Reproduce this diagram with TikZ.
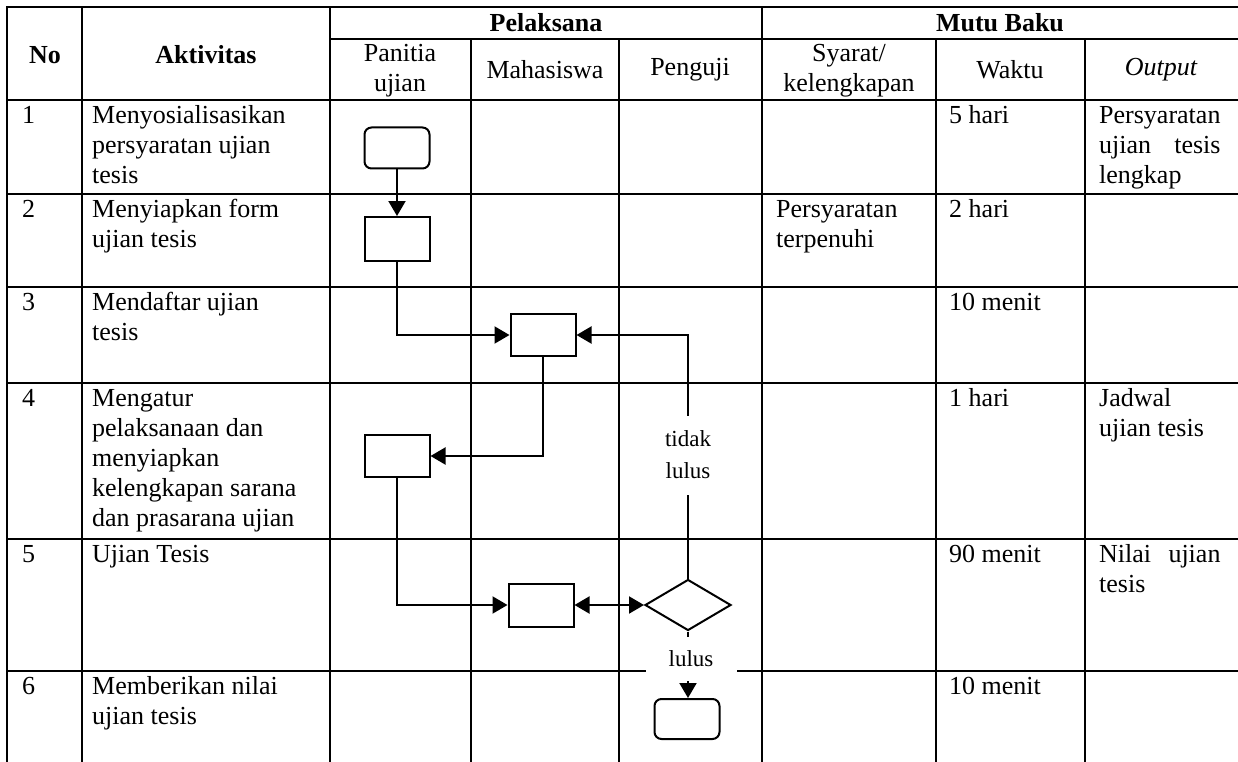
\documentclass[tikz,border=0pt]{standalone}
\usepackage{fontspec}
\setmainfont{Liberation Serif}
\usepackage{calc}
\usetikzlibrary{shapes.geometric,arrows.meta}
\begin{document}
\begin{tikzpicture}[x=1pt,y=-1pt,
 tbl/.style={line width=2pt},
 hd/.style={inner sep=0pt,align=center,font=\fontsize{26pt}{30pt}\selectfont},
 hdb/.style={inner sep=0pt,align=center,font=\fontsize{26pt}{30pt}\selectfont\bfseries},
 txt/.style={anchor=north west,inner sep=0pt,align=left,font=\fontsize{26pt}{30pt}\selectfont},
 box/.style={draw,line width=2pt,minimum width=65pt,minimum height=42pt,inner sep=0pt},
 rbox/.style={box,rounded corners=7pt},
 decision/.style={draw,diamond,line width=2pt,minimum width=86pt,minimum height=51pt,inner sep=0pt},
 conn/.style={line width=2pt,-{Triangle[length=15pt,width=17pt]}},
 biconn/.style={line width=2pt,{Triangle[length=15pt,width=17pt]}-{Triangle[length=15pt,width=17pt]}},
 lbl/.style={fill=white,inner sep=0pt,align=center,font=\fontsize{23pt}{32pt}\selectfont}]
\useasboundingbox (0,0) rectangle (1238,762);
% table grid
\draw[tbl] (1238,7) -- (7,7) -- (7,762);
\draw[tbl] (82,7) -- (82,762);
\draw[tbl] (330,7) -- (330,762);
\draw[tbl] (762,7) -- (762,762);
\draw[tbl] (330,39) -- (1238,39);
\foreach \xx in {471,619,936,1085} \draw[tbl] (\xx,39) -- (\xx,762);
\foreach \yy in {100,194,287,383,539,671} \draw[tbl] (7,\yy) -- (1238,\yy);
% headers
\node[hdb] (hno) at (45,55) {No};
\node[hdb] (hakt) at (206,55) {Aktivitas};
\node[hdb] (hpel) at (546,23) {Pelaksana};
\node[hdb] (hmut) at (1000,23) {Mutu Baku};
\node[hd] (hpan) at (400,71) {Panitia\\ujian};
\node[hd] (hmah) at (545,70) {Mahasiswa};
\node[hd] (hpen) at (690,70) {Penguji};
\node[hd] (hsya) at (849,71) {Syarat/\\kelengkapan};
\node[hd] (hwak) at (1010,70) {Waktu};
\node[hd] (hout) at (1161,70) {\itshape Output};
% row 1
\node[txt] (n1) at (22,102) {\strut 1};
\node[txt] (a1) at (92,102) {\strut Menyosialisasikan\\persyaratan ujian\\tesis};
\node[txt] (w1) at (949,102) {\strut 5 hari};
\node[txt] (o1) at (1099,102) {\strut Persyaratan\\\makebox[\widthof{Persyaratan}][s]{ujian tesis}\\lengkap};
% row 2
\node[txt] (n2) at (22,196) {\strut 2};
\node[txt] (a2) at (92,196) {\strut Menyiapkan form\\ujian tesis};
\node[txt] (s2) at (776,196) {\strut Persyaratan\\terpenuhi};
\node[txt] (w2) at (949,196) {\strut 2 hari};
% row 3
\node[txt] (n3) at (22,289) {\strut 3};
\node[txt] (a3) at (92,289) {\strut Mendaftar ujian\\tesis};
\node[txt] (w3) at (949,289) {\strut 10 menit};
% row 4
\node[txt] (n4) at (22,385) {\strut 4};
\node[txt] (a4) at (92,385) {\strut Mengatur\\pelaksanaan dan\\menyiapkan\\kelengkapan sarana\\dan prasarana ujian};
\node[txt] (w4) at (949,385) {\strut 1 hari};
\node[txt] (o4) at (1099,385) {\strut Jadwal\\ujian tesis};
% row 5
\node[txt] (n5) at (22,541) {\strut 5};
\node[txt] (a5) at (92,541) {\strut Ujian Tesis};
\node[txt] (w5) at (949,541) {\strut 90 menit};
\node[txt] (o5) at (1099,541) {\strut\makebox[\widthof{Persyaratan}][s]{Nilai ujian}\\tesis};
% row 6
\node[txt] (n6) at (22,673) {\strut 6};
\node[txt] (a6) at (92,673) {\strut Memberikan nilai\\ujian tesis};
\node[txt] (w6) at (949,673) {\strut 10 menit};
% flowchart
\node[rbox,minimum height=41pt] (s1) at (397,148) {};
\node[box,minimum height=44pt] (p2) at (397,239) {};
\node[box] (p3) at (543,335) {};
\node[box] (p4) at (397,456) {};
\node[box,minimum height=43pt] (p5) at (541,605) {};
\node[decision] (d5) at (688,605) {};
\node[rbox,minimum height=40pt] (e6) at (687,719) {};
\draw[conn] (s1) -- (p2);
\draw[conn] (p2.south) |- (p3.west);
\draw[conn] (p3.south) |- (p4.east);
\draw[conn] (p4.south) |- (p5.west);
\draw[biconn] (p5.east) -- (d5.west);
\draw[conn] (d5.north) |- (p3.east);
\draw[conn] (d5.south) -- (d5.south |- e6.north);
\node[lbl,minimum height=79pt,minimum width=50pt] (tl) at (688,455) {tidak\\lulus};
\node[lbl,minimum height=44pt,minimum width=91pt] (ll) at (691,659) {lulus};
\end{tikzpicture}
\end{document}
